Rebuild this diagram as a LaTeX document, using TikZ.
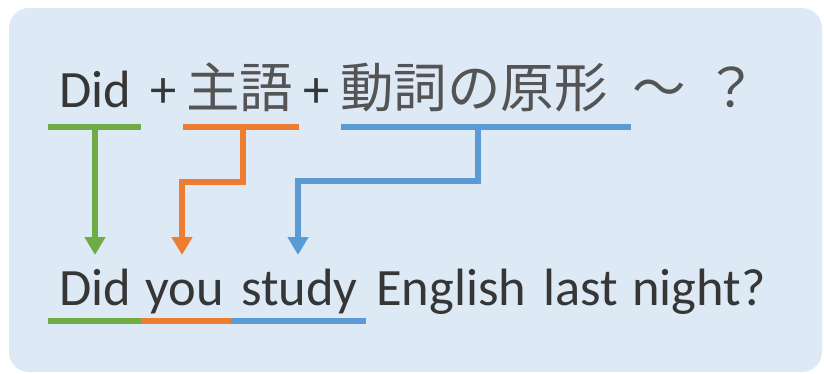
\documentclass[tikz,border=0pt]{standalone}
\usepackage{fontspec}
\setmainfont{Carlito}
\newfontfamily\jpfont{Noto Sans CJK JP}
\usepackage{xcolor}
\usetikzlibrary{arrows.meta}

\definecolor{bgblue}{HTML}{DDE9F5}
\definecolor{ggreen}{HTML}{6FAC46}
\definecolor{oorange}{HTML}{ED7D31}
\definecolor{bblue}{HTML}{5B9BD5}
\definecolor{txt}{HTML}{363636}

\tikzset{
  word/.style={anchor=base west,inner sep=0pt,text=txt,font=\fontsize{52.5}{60}\selectfont},
  jword/.style={anchor=base west,inner sep=0pt,text=txt!85,font=\jpfont\fontsize{53.5}{60}\selectfont},
  uline/.style={line width=6pt},
  arr/.style={line width=5.5pt,-{Triangle[width=20pt,length=18pt]}}
}

\begin{document}
\begin{tikzpicture}[x=1pt,y=-1pt]
\useasboundingbox (0,0) rectangle (824,374);
\fill[bgblue,rounded corners=20pt] (9,8) rectangle (822,372);

% top row
\node[word] (did) at (59,108) {Did};
\node[word] (plus1) at (150,108) {+};
\node[jword] (subj) at (186,108) {主語};
\node[word] (plus2) at (303,108) {+};
\node[jword] (verb) at (340,108) {動詞の原形};
\node[jword] (tilde) at (632,108) {～};
\node[jword] (qm) at (704,108) {？};

% bottom row
\node[word] (did2) at (59,305) {Did};
\node[word] (you) at (145,305) {you};
\node[word] (study) at (241,305) {study};
\node[word] (english) at (376,305) {English};
\node[word] (last) at (543,305) {last};
\node[word] (night) at (632,305) {night?};

\coordinate (g1) at (48,127);
\coordinate (g2) at (141,127);
\coordinate (o1) at (183,127);
\coordinate (o2) at (299,127);
\coordinate (b1) at (341,127);
\coordinate (b2) at (631,127);

\path[uline,draw=ggreen] (g1) edge (g2);
\path[uline,draw=oorange] (o1) edge (o2);
\path[uline,draw=bblue] (b1) edge (b2);

\coordinate (gtop) at (95,127);
\coordinate (gtip) at (95,255);
\coordinate (otop) at (243,127);
\coordinate (obend) at (182,182);
\coordinate (otip) at (182,255);
\coordinate (btop) at (478,127);
\coordinate (bbend) at (298,181);
\coordinate (btip) at (298,255);

\draw[arr,ggreen] (gtop) -- (gtip);
\draw[arr,oorange] (otop) |- (obend) -- (otip);
\draw[arr,bblue] (btop) |- (bbend) -- (btip);

\coordinate (s1) at (48,321);
\coordinate (s2) at (141,321);
\coordinate (s3) at (231,321);
\coordinate (s4) at (366,321);

\path[uline,draw=ggreen] (s1) edge (s2);
\path[uline,draw=oorange] (s2) edge (s3);
\path[uline,draw=bblue] (s3) edge (s4);
\end{tikzpicture}
\end{document}
